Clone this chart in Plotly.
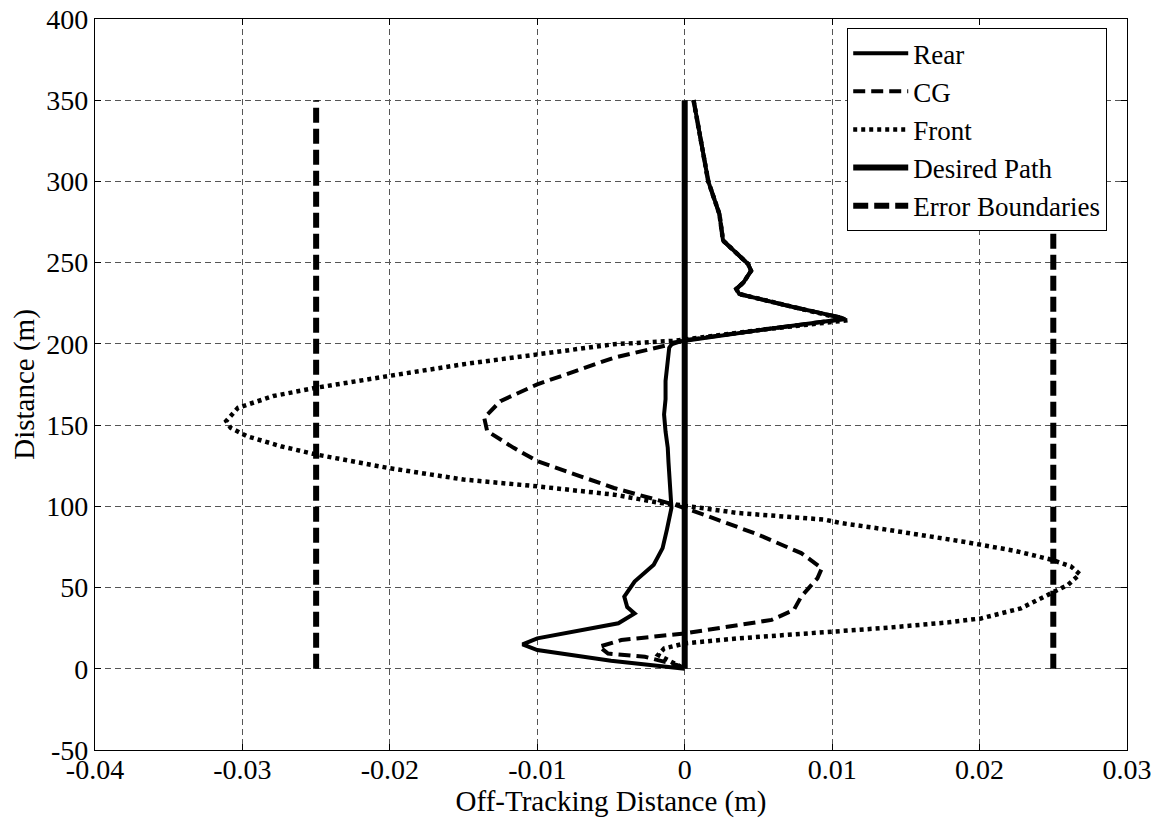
import plotly.graph_objects as go

# ---- data ----
# common upper part (all three curves coincide above ~202 m)
upper_y = [350, 325, 300, 280, 263.6, 249.2, 245, 238, 233.8, 230.7, 223, 216.2, 215.3, 209, 202.3]
upper_x = [0.0006, 0.0011, 0.0016, 0.00235, 0.0026, 0.0043, 0.0045, 0.0040, 0.0035, 0.0037, 0.0072, 0.0106, 0.0108, 0.0055, 0.0000]

rear_low_y = [200.8, 197.7, 187, 177.2, 166, 156.6, 146, 136, 127, 117.5, 108, 99, 86, 74.3, 64, 53.7, 44.4, 38, 34.1, 28, 18.7, 15, 11.5, 5, 0]
rear_low_x = [-0.0008, -0.00105, -0.0012, -0.0013, -0.0013, -0.0014, -0.0013, -0.00115, -0.0011, -0.00105, -0.0010, -0.0009, -0.0012, -0.0015, -0.0021, -0.0034, -0.0041, -0.0039, -0.0034, -0.0045, -0.0100, -0.0110, -0.0100, -0.0050, 0.0]

cg_low_y = [199.8, 191.5, 175.1, 164.8, 154.5, 146.3, 136, 127.8, 111.3, 103.1, 101, 94.9, 82.5, 71.2, 61.9, 55.7, 44.4, 36.2, 30.1, 21.8, 17.7, 13.6, 9.4, 7.4, 2.3, 0]
cg_low_x = [-0.0009, -0.0048, -0.0100, -0.0125, -0.0136, -0.0134, -0.0116, -0.0100, -0.0048, -0.0014, -0.0007, 0.0013, 0.0050, 0.0079, 0.0093, 0.0090, 0.0079, 0.0074, 0.0059, 0.0000, -0.0043, -0.0058, -0.0052, -0.0027, -0.0005, 0.0]

front_peak_y = [214.6]
front_peak_x = [0.0111]
front_low_y = [201.9, 199.8, 193.6, 187.5, 180.2, 173, 167.9, 160.7, 152.5, 148.3, 143.2, 137, 131.9, 123.6, 116.5, 112.3, 107.2, 102, 101, 95.9,
               91.8, 89.7, 86.2, 82.5, 78.4, 72.6, 67.1, 63, 58.2, 51.7, 46.5, 37.2, 31, 28.6, 25.3, 22.8, 21.8, 18.7, 15.6, 12.5, 8.5, 4.3, 0]
front_low_x = [-0.0007, -0.0048, -0.0100, -0.0150, -0.0201, -0.0250, -0.0279, -0.0303, -0.0311, -0.0308, -0.0297, -0.0274, -0.0250, -0.0201, -0.0150, -0.0100, -0.0048, -0.0016, -0.0005, 0.0036,
               0.0095, 0.0106, 0.0133, 0.0160, 0.0188, 0.0224, 0.0249, 0.0262, 0.0268, 0.0260, 0.0249, 0.0228, 0.0201, 0.0179, 0.0138, 0.0097, 0.0081, 0.0036, 0.0000, -0.0014, -0.0018, -0.0009, 0.0]

path_y = [0, 350]
path_x = [0, 0]
bound_y = [0, 350]
bound_left = -0.025
bound_right = 0.025

x_ticks = [-0.04, -0.03, -0.02, -0.01, 0, 0.01, 0.02, 0.03]
x_tick_labels = ["-0.04", "-0.03", "-0.02", "-0.01", "0", "0.01", "0.02", "0.03"]
y_ticks = [-50, 0, 50, 100, 150, 200, 250, 300, 350, 400]
y_tick_labels = ["-50", "0", "50", "100", "150", "200", "250", "300", "350", "400"]

# ---- assemble ----
rear_x = upper_x + rear_low_x
rear_y = upper_y + rear_low_y
cg_x = upper_x + cg_low_x
cg_y = upper_y + cg_low_y
fx = upper_x[:12] + front_peak_x + upper_x[13:] + front_low_x
fy = upper_y[:12] + front_peak_y + upper_y[13:] + front_low_y

FONT = "Liberation Serif, Times New Roman, serif"
fig = go.Figure()
fig.add_trace(go.Scatter(x=rear_x, y=rear_y, mode="lines", name="Rear",
                         line=dict(color="black", width=4)))
fig.add_trace(go.Scatter(x=cg_x, y=cg_y, mode="lines", name="CG",
                         line=dict(color="black", width=4, dash="12px,6px")))
fig.add_trace(go.Scatter(x=fx, y=fy, mode="lines", name="Front",
                         line=dict(color="black", width=4.5, dash="4px,4px")))
fig.add_trace(go.Scatter(x=path_x, y=path_y, mode="lines", name="Desired Path",
                         line=dict(color="black", width=6)))
fig.add_trace(go.Scatter(x=[bound_left, bound_left, None, bound_right, bound_right],
                         y=[bound_y[0], bound_y[1], None, bound_y[0], bound_y[1]],
                         mode="lines", name="Error Boundaries",
                         line=dict(color="black", width=6, dash="15px,6px")))

axis_common = dict(
    showline=True, linecolor="black", linewidth=1.2, mirror="allticks",
    ticks="inside", ticklen=6, tickcolor="black", automargin=False,
    ticklabeloverflow="allow",
    showgrid=True, gridcolor="#555555", gridwidth=1, griddash="6px,4px",
    zeroline=False, tickfont=dict(family=FONT, size=28, color="black"),
)
fig.update_xaxes(range=[-0.04, 0.03], tickvals=x_ticks, ticktext=x_tick_labels, ticklabelstandoff=-6,
                 title=dict(text="Off-Tracking Distance (m)", font=dict(family=FONT, size=29, color="black"), standoff=0),
                 **axis_common)
fig.update_yaxes(range=[-50, 400], tickvals=y_ticks, ticktext=y_tick_labels, ticklabelstandoff=0,
                 title=dict(text="Distance (m)", font=dict(family=FONT, size=29, color="black"), standoff=8),
                 **axis_common)

# the page body adds an 8px margin; size the figure so the plot area lands where the reference has it
fig.update_layout(
    width=1151, height=810,
    margin=dict(l=87, r=32, t=11, b=68, autoexpand=False),
    plot_bgcolor="white", paper_bgcolor="white",
    font=dict(family=FONT, size=28, color="black"),
    legend=dict(x=0.7287, y=0.9877, xanchor="left", yanchor="top",
                bgcolor="white", bordercolor="black", borderwidth=1.2,
                font=dict(family=FONT, size=27, color="black"),
                itemwidth=55, tracegroupgap=0),
    showlegend=True,
)
fig.write_html("out.html")
